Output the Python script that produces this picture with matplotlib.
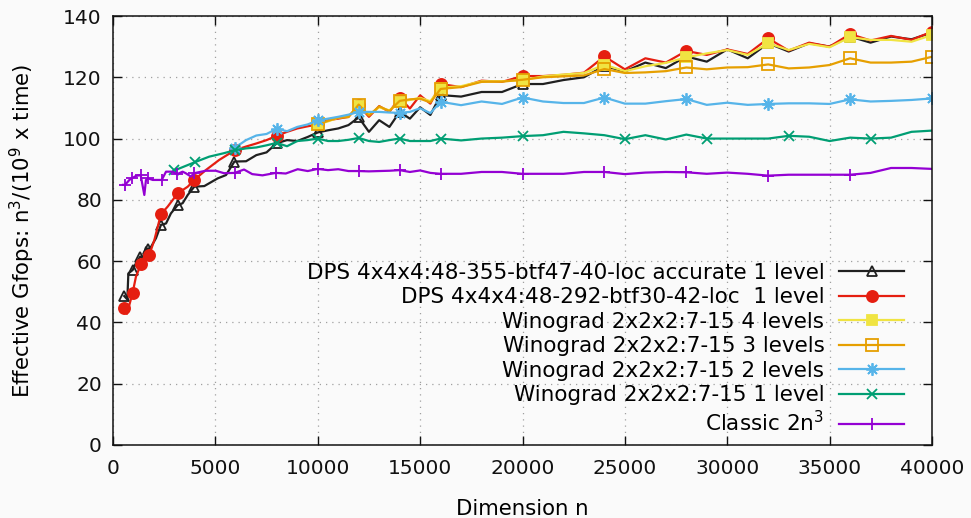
import numpy as np
import matplotlib
matplotlib.use("Agg")
import matplotlib.pyplot as plt

plt.rcParams['font.family'] = ['DejaVu Sans']

# ---- data ------------------------------------------------------------
tail_n = list(range(16000, 40001, 1000))

dps355_n = [550, 700, 750, 960, 1120, 1330, 1450, 1610, 1690, 1860, 2100, 2340, 2590,
            2830, 3160, 3400, 3650, 3970, 4460, 5110, 5520, 5930, 6500, 7000, 7500,
            8000, 8500, 9000, 9500, 10000, 10500, 11000, 11500, 12000, 12500, 13000,
            13500, 14000, 14500, 15000, 15500] + tail_n
dps355_y = [48.6, 47.5, 56.0, 57.1, 59.3, 61.5, 60.9, 64.5, 63.8, 64.7, 67.5, 71.8, 72.3,
            75.6, 78.3, 78.9, 81.6, 84.3, 84.5, 87.0, 88.1, 92.5, 92.6, 94.6, 95.5,
            98.5, 99.5, 99.2, 100.5, 102.0, 102.7, 103.3, 104.4, 106.9, 102.2, 106.0,
            103.8, 108.7, 106.5, 110.2, 107.7,
            114.2, 113.7, 115.2, 115.2, 117.8, 117.8, 119.1, 120.0, 123.7, 121.9, 124.8,
            123.0, 126.8, 125.1, 129.1, 126.2, 131.1, 128.4, 131.1, 130.0, 133.3, 131.3,
            133.3, 132.4, 134.6]

dps292_n = [550, 680, 960, 1120, 1370, 1530, 1770, 2020, 2340, 2670, 3160, 3650, 3970,
            4530, 5180, 5950, 6500, 7000, 7500, 8000, 8500, 9000, 9500, 10000, 10500,
            11000, 11500, 12000, 12500, 13000, 13500, 14000, 14500, 15000, 15500] + tail_n
dps292_y = [44.6, 42.8, 49.7, 54.9, 59.1, 61.5, 62.0, 66.9, 75.3, 77.8, 82.1, 84.3, 86.5,
            89.7, 93.0, 96.2, 97.4, 98.4, 99.5, 100.9, 102.2, 103.3, 104.0, 104.6, 106.0,
            106.5, 107.1, 110.9, 107.1, 110.6, 108.7, 113.4, 109.8, 114.1, 111.4,
            117.8, 116.8, 118.9, 118.5, 120.4, 120.4, 120.8, 121.5, 126.8, 122.6, 126.2,
            124.8, 128.6, 127.3, 129.1, 127.6, 132.7, 128.7, 131.3, 130.0, 134.1, 132.0,
            133.5, 132.2, 134.9]

wino_n = [10000, 10500, 11000, 11500, 12000, 12500, 13000, 13500, 14000, 14500, 15000,
          15500] + tail_n
wino4_y = [104.6, 105.6, 106.8, 107.3, 110.5, 107.8, 110.2, 109.2, 112.0, 112.6, 113.3,
           112.2,
           116.6, 117.1, 118.7, 118.7, 119.0, 120.3, 120.9, 121.4, 124.1, 122.0, 123.6,
           124.7, 126.5, 127.8, 128.9, 127.3, 131.1, 128.9, 130.9, 129.8, 133.1, 132.2,
           132.2, 131.6, 133.8]
wino3_y = [104.6, 105.8, 106.8, 107.0, 111.1, 107.5, 110.5, 109.0, 112.3, 112.8, 113.0,
           111.8,
           116.2, 116.8, 118.5, 118.6, 119.2, 120.0, 120.3, 120.6, 122.7, 121.4, 121.6,
           122.0, 123.2, 122.6, 123.2, 123.3, 124.2, 122.9, 123.2, 124.0, 126.2, 124.8,
           124.8, 125.1, 126.7]

wino2_n = [5950, 6500, 7000, 7500, 8000, 8500, 9000, 9500, 10000, 10500, 11000, 11500,
           12000, 12500, 13000, 13500, 14000, 14500, 15000, 15500] + tail_n
wino2_y = [97.0, 99.5, 101.0, 101.5, 103.2, 102.4, 103.8, 104.6, 105.9, 106.5, 107.1,
           107.8, 108.7, 108.7, 108.7, 108.5, 108.4, 108.7, 109.9, 108.3,
           112.0, 110.9, 112.1, 111.3, 113.4, 112.1, 111.6, 111.6, 113.4, 111.4, 111.4,
           112.2, 112.9, 111.0, 111.7, 111.0, 111.3, 111.5, 111.5, 111.3, 112.8, 112.1,
           112.3, 112.6, 113.1]

wino1_n = [3000, 4000, 4700, 5400, 5950, 6500, 7000, 7500, 8000, 8500, 9000, 9500,
           10000, 10500, 11000, 11500, 12000, 12500, 13000, 13500, 14000, 14500, 15000,
           15500] + tail_n
wino1_y = [89.6, 92.3, 94.1, 95.2, 96.2, 96.8, 97.1, 97.8, 98.6, 97.5, 99.2, 99.5,
           100.0, 99.2, 99.2, 99.6, 100.2, 99.2, 98.9, 99.5, 100.0, 99.2, 99.2, 99.2,
           100.0, 99.4, 100.0, 100.3, 100.8, 101.1, 102.2, 101.7, 101.1, 99.8, 101.1,
           99.7, 101.3, 100.0, 100.0, 100.0, 100.0, 100.9, 100.6, 99.2, 100.3, 100.0,
           100.3, 102.2, 102.6]

classic_n = [490, 590, 800, 910, 1120, 1350, 1530, 1610, 1720, 1940, 2100, 2380, 2590,
             2910, 3140, 3400, 3550, 3810, 3960, 4530, 5020, 5420, 5950, 6400, 6800,
             7300, 7950, 8440, 9020, 9510, 10000, 10500, 11000, 11500, 12000, 12500,
             13000, 13500, 14000, 14500, 15000, 15500] + tail_n
classic_y = [84.9, 84.9, 86.5, 87.0, 87.8, 88.1, 81.6, 86.5, 87.0, 86.5, 86.5, 86.5,
             89.2, 89.2, 88.4, 89.2, 88.7, 87.6, 88.7, 89.5, 89.5, 88.7, 88.8, 89.9,
             88.4, 88.0, 88.8, 88.6, 90.0, 89.4, 90.1, 89.7, 90.0, 89.4, 89.4, 89.3,
             89.4, 89.5, 89.7, 89.1, 89.6, 88.8,
             88.5, 88.5, 89.1, 89.1, 88.5, 88.5, 88.5, 89.1, 89.1, 88.4, 88.9, 89.1,
             89.0, 88.5, 88.9, 88.5, 87.9, 88.2, 88.2, 88.2, 88.2, 88.8, 90.4, 90.4,
             90.1]

labels = [
    "DPS 4x4x4:48-355-btf47-40-loc accurate 1 level",
    "DPS 4x4x4:48-292-btf30-42-loc  1 level",
    "Winograd 2x2x2:7-15 4 levels",
    "Winograd 2x2x2:7-15 3 levels",
    "Winograd 2x2x2:7-15 2 levels",
    "Winograd 2x2x2:7-15 1 level",
    r"Classic 2n$^3$",
]

# ---- styling: which points carry a symbol ----------------------------
big = [16000, 20000, 24000, 28000, 32000, 36000, 40000]
mid = [6000, 8000, 10000, 12000, 14000]
marks = {
    0: [550, 960, 1330, 1690, 2340, 3160, 3970, 5930] + mid[1:] + big,
    1: [550, 960, 1370, 1770, 2340, 3160, 3970, 5950] + mid[1:] + big,
    2: [10000, 12000, 14000] + big,
    3: [10000, 12000, 14000] + big,
    4: [5950] + mid[1:] + big,
    5: [3000, 4000, 5950, 8000, 10000, 12000, 14000, 16000, 20000, 25000, 29000,
        33000, 37000],
    6: [590, 910, 1350, 1720, 2380, 3140, 3960, 5950, 7950, 10000, 12000, 14000,
        16000, 20000, 24000, 28000, 32000, 36000],
}

series = [
    (dps355_n, dps355_y, dict(color="#202020", marker="^", mfc="none", ms=7)),
    (dps292_n, dps292_y, dict(color="#e51e10", marker="o", mfc="#e51e10", ms=8)),
    (wino_n, wino4_y, dict(color="#f0e442", marker="s", mfc="#f0e442", ms=7.5)),
    (wino_n, wino3_y, dict(color="#e69f00", marker="s", mfc="none", ms=8)),
    (wino2_n, wino2_y, dict(color="#56b4e9", marker=(8, 2, 0), ms=9)),
    (wino1_n, wino1_y, dict(color="#009e73", marker="x", ms=7)),
    (classic_n, classic_y, dict(color="#9400d3", marker="+", ms=8)),
]

bg = "#fafafa"
fig = plt.figure(figsize=(9.71, 5.18), dpi=100, facecolor=bg)
ax = fig.add_axes([113 / 971, 1 - 445 / 518, 819 / 971, 429 / 518], facecolor=bg)

for i, ((n, y, st), lab) in enumerate(zip(series, labels)):
    idx = [k for k, v in enumerate(n) if v in set(marks[i])]
    ax.plot(n, y, label=lab, lw=1.6, mew=1.3, markevery=idx, **st)

ax.set_xlim(0, 40000)
ax.set_ylim(0, 140)
ax.set_xticks(np.arange(0, 40001, 5000))
ax.set_yticks(np.arange(0, 141, 20))
ax.grid(True, color="#a0a0a0", linestyle=(0, (1, 4)), linewidth=0.9)
ax.tick_params(direction="in", length=6.5, width=1.0, top=True, right=True,
               labelsize=14.5, colors="#111111")
ax.tick_params(axis="x", pad=10)
ax.tick_params(axis="y", pad=8)
for sp in ax.spines.values():
    sp.set_linewidth(1.1)
    sp.set_color("#111111")

ax.set_xlabel("Dimension n", fontsize=15.3, labelpad=15)
ax.set_ylabel(r"Effective Gfops: n$^3$/(10$^9$ x time)", fontsize=15.3, labelpad=19)

leg = ax.legend(loc="lower right", bbox_to_anchor=(0.979, -0.002), frameon=False,
                markerfirst=False, fontsize=15.5, handlelength=3.0,
                handletextpad=0.7, labelspacing=0.21, borderpad=0, numpoints=1)

fig.savefig("out.png", dpi=100, facecolor=bg)
